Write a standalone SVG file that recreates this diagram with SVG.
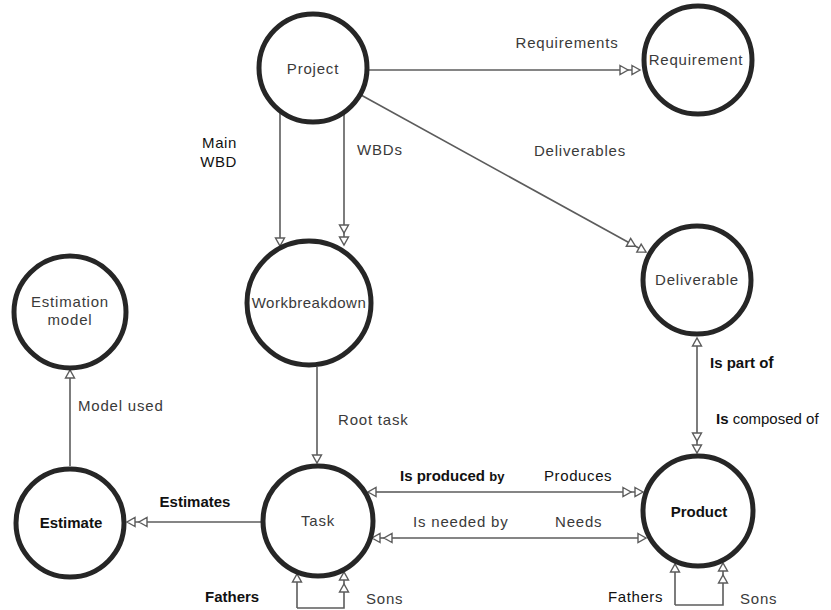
<svg xmlns="http://www.w3.org/2000/svg" width="831" height="610" viewBox="0 0 831 610">
  <style>
    .node { fill: #ffffff; stroke: #262626; stroke-width: 5; }
    .edge { fill: none; stroke: #5c5c5c; stroke-width: 1.6; }
    .t { font-family: "Liberation Sans", Arial, sans-serif; font-size: 15px; letter-spacing: 0.8px; fill: #3a3a3a; }
    .b { font-family: "Liberation Sans", Arial, sans-serif; font-size: 15px; font-weight: bold; fill: #111111; }
    .k { font-family: "Liberation Sans", Arial, sans-serif; font-size: 15px; letter-spacing: 0.6px; fill: #111111; }
    .c { text-anchor: middle; }
    .e { text-anchor: end; }
  </style>
  <defs>
    <!-- open triangle: one -->
    <marker id="one" markerUnits="userSpaceOnUse" viewBox="-2 -6 12 12" markerWidth="12" markerHeight="12" refX="8" refY="0" orient="auto" overflow="visible">
      <path d="M0,-4.5 L8,0 L0,4.5 Z" fill="#ffffff" stroke="#5c5c5c" stroke-width="1.4"/>
    </marker>
    <!-- open triangles: many -->
    <marker id="many" markerUnits="userSpaceOnUse" viewBox="-14 -6 24 12" markerWidth="24" markerHeight="12" refX="8" refY="0" orient="auto" overflow="visible">
      <path d="M-12,-4.5 L-4,0 L-12,4.5 Z M0,-4.5 L8,0 L0,4.5 Z" fill="#ffffff" stroke="#5c5c5c" stroke-width="1.4"/>
    </marker>
  </defs>

  <rect width="831" height="610" fill="#ffffff"/>

  <g id="connectors">
    <!-- Project -> Requirement -->
    <line class="edge" x1="369" y1="70" x2="640" y2="70" marker-end="url(#many)"/>
    <text class="t c" x="567" y="48">Requirements</text>
    <!-- Project -> Deliverable -->
    <line class="edge" x1="361" y1="95" x2="646" y2="252" marker-end="url(#many)"/>
    <text class="t c" x="580" y="156">Deliverables</text>
    <!-- Project -> Workbreakdown (main) -->
    <line class="edge" x1="280" y1="112" x2="280" y2="246" marker-end="url(#one)"/>
    <text class="k e" x="237" y="148">Main</text>
    <text class="k e" x="237" y="167">WBD</text>
    <!-- Project -> Workbreakdown (all) -->
    <line class="edge" x1="344" y1="113" x2="344" y2="245" marker-end="url(#many)"/>
    <text class="t" x="357" y="155">WBDs</text>
    <!-- Workbreakdown -> Task -->
    <line class="edge" x1="317" y1="367" x2="317" y2="463" marker-end="url(#one)"/>
    <text class="t" x="338" y="425">Root task</text>
    <!-- Estimate -> Estimation model -->
    <line class="edge" x1="70" y1="466" x2="70" y2="370" marker-end="url(#one)"/>
    <text class="t" x="78" y="411">Model used</text>
    <!-- Task -> Estimate -->
    <line class="edge" x1="262" y1="522" x2="127" y2="522" marker-end="url(#many)"/>
    <text class="b c" x="195" y="507">Estimates</text>
    <!-- Task <-> Product (production) -->
    <line class="edge" x1="400" y1="492" x2="643" y2="492" marker-end="url(#many)"/>
    <line class="edge" x1="400" y1="492" x2="368" y2="492" marker-end="url(#one)"/>
    <text class="b" x="400" y="481">Is produced <tspan font-size="13">by</tspan></text>
    <text class="k" x="544" y="481">Produces</text>
    <!-- Task <-> Product (needs) -->
    <line class="edge" x1="400" y1="538" x2="646" y2="538" marker-end="url(#one)"/>
    <line class="edge" x1="400" y1="538" x2="372" y2="538" marker-end="url(#many)"/>
    <text class="t" x="413" y="527">Is needed  by</text>
    <text class="t" x="555" y="527">Needs</text>
    <!-- Deliverable <-> Product -->
    <line class="edge" x1="697" y1="420" x2="697" y2="338" marker-end="url(#one)"/>
    <line class="edge" x1="697" y1="420" x2="697" y2="453" marker-end="url(#many)"/>
    <text class="b" x="710" y="368">Is  part o<tspan font-size="16">f</tspan></text>
    <text class="b" x="716" y="424">Is <tspan style="font-weight:normal">composed of</tspan></text>
    <!-- Task self relation -->
    <path class="edge" d="M297,608 L344,608 L344,572" marker-end="url(#many)"/>
    <line class="edge" x1="297" y1="608" x2="297" y2="574" marker-end="url(#one)"/>
    <text class="b" x="205" y="602" font-size="16">Fathers</text>
    <text class="t" x="366" y="604">Sons</text>
    <!-- Product self relation -->
    <path class="edge" d="M675,605 L723,605 L723,563" marker-end="url(#many)"/>
    <line class="edge" x1="675" y1="605" x2="675" y2="564" marker-end="url(#one)"/>
    <text class="k" x="608" y="602" font-size="16">Fathers</text>
    <text class="t" x="740" y="604">Sons</text>
  </g>

  <g id="project">
    <circle class="node" cx="313" cy="68" r="54"/>
    <text class="t c" x="313" y="74">Project</text>
  </g>
  <g id="requirement">
    <circle class="node" cx="698" cy="60" r="54"/>
    <text class="t c" x="696" y="65">Requirement</text>
  </g>
  <g id="workbreakdown">
    <circle class="node" cx="309" cy="303" r="62"/>
    <text class="t c" x="309" y="308" style="letter-spacing:0.5px">Workbreakdown</text>
  </g>
  <g id="deliverable">
    <circle class="node" cx="697" cy="280" r="54"/>
    <text class="t c" x="697" y="285">Deliverable</text>
  </g>
  <g id="estimation-model">
    <circle class="node" cx="70" cy="312" r="56"/>
    <text class="t c" x="70" y="307">Estimation</text>
    <text class="t c" x="70" y="325">model</text>
  </g>
  <g id="estimate">
    <circle class="node" cx="70" cy="523" r="54"/>
    <text class="b c" x="71" y="528">Estimate</text>
  </g>
  <g id="task">
    <circle class="node" cx="318" cy="521" r="55"/>
    <text class="t c" x="318" y="526">Task</text>
  </g>
  <g id="product">
    <circle class="node" cx="698" cy="511" r="55"/>
    <text class="b c" x="699" y="517" font-size="16">Product</text>
  </g>
</svg>
